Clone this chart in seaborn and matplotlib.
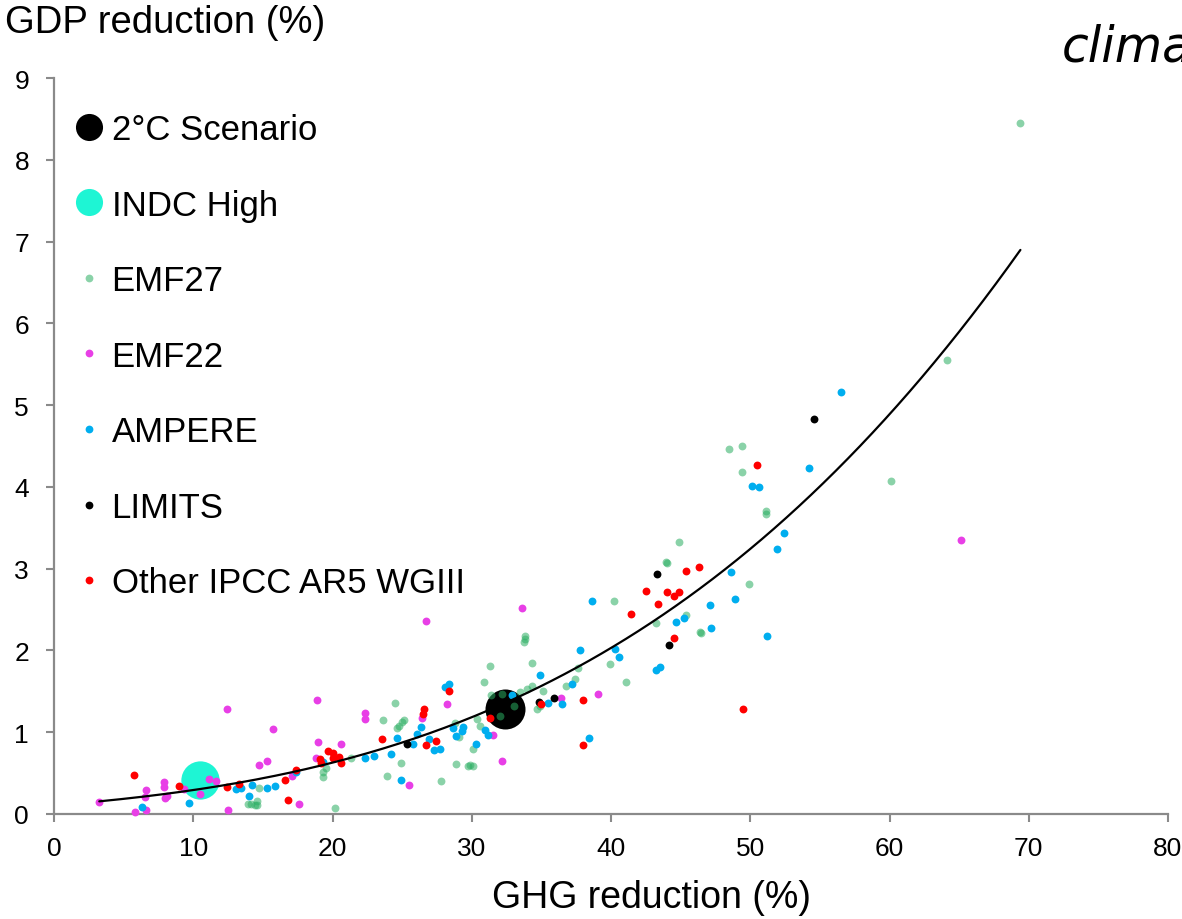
import numpy as np
import matplotlib
matplotlib.use("Agg")
import matplotlib.pyplot as plt
from matplotlib.lines import Line2D
from matplotlib.font_manager import FontProperties
import seaborn as sns

# ---- scenario data: GHG reduction (%) vs GDP reduction (%) ----
scenario_2c_x = [32.4]
scenario_2c_y = [1.28]

indc_high_x = [10.5]
indc_high_y = [0.41]

emf27_x = [14.75, 13.9, 14.15, 14.55, 14.45, 14.6, 20.2, 19.35, 19.35, 19.5,
           21.3, 24.5, 23.6, 23.9, 24.9, 24.6, 24.8, 25.0, 25.1, 27.8,
           28.8, 28.9, 29.7, 29.85, 30.1, 29.1, 30.1, 30.9, 31.3, 30.6,
           30.35, 33.8, 33.8, 33.75, 34.35, 32.2, 33.0, 32.0, 31.4, 33.5,
           34.0, 34.3, 34.65, 34.9, 35.15, 36.8, 37.4, 37.65, 39.9, 40.2,
           41.1, 44.9, 43.95, 44.0, 45.4, 46.4, 46.45, 43.2, 49.9, 48.5,
           49.4, 49.4, 51.1, 51.15, 69.4, 64.1, 60.1]
emf27_y = [0.32, 0.12, 0.12, 0.16, 0.11, 0.11, 0.07, 0.45, 0.51, 0.56,
           0.68, 1.36, 1.15, 0.46, 0.62, 1.05, 1.07, 1.13, 1.15, 0.40,
           1.11, 0.61, 0.59, 0.60, 0.59, 0.94, 0.79, 1.62, 1.81, 1.08,
           1.16, 2.18, 2.14, 2.10, 1.85, 1.47, 1.32, 1.20, 1.45, 1.49,
           1.53, 1.57, 1.28, 1.32, 1.50, 1.56, 1.65, 1.78, 1.84, 2.60,
           1.61, 3.33, 3.08, 3.07, 2.43, 2.23, 2.21, 2.34, 2.81, 4.46,
           4.50, 4.18, 3.70, 3.67, 8.45, 5.55, 4.07]

emf22_x = [3.25, 5.8, 6.6, 6.5, 6.6, 7.9, 7.9, 8.0, 8.1, 9.35,
           11.1, 11.6, 10.5, 12.4, 12.5, 14.7, 15.3, 15.7, 17.6, 17.1,
           18.9, 18.95, 18.8, 20.6, 26.7, 22.3, 22.3, 26.4, 28.2, 25.5,
           32.2, 31.5, 33.6, 36.4, 39.1, 65.1]
emf22_y = [0.15, 0.02, 0.29, 0.21, 0.05, 0.39, 0.33, 0.19, 0.22, 0.30,
           0.43, 0.40, 0.24, 1.29, 0.05, 0.60, 0.65, 1.04, 0.12, 0.47,
           1.40, 0.88, 0.69, 0.85, 2.36, 1.24, 1.16, 1.18, 1.35, 0.35,
           0.65, 0.97, 2.52, 1.42, 1.47, 3.35]

ampere_x = [6.3, 9.7, 13.1, 13.4, 14.2, 14.0, 15.3, 15.9, 17.4, 19.3,
            22.3, 23.0, 24.2, 24.6, 24.9, 26.05, 26.35, 25.8, 26.9, 27.3,
            27.7, 28.1, 28.4, 28.65, 28.9, 29.35, 29.3, 30.3, 30.95, 31.2,
            32.9, 34.9, 35.5, 36.5, 37.2, 37.75, 38.6, 40.3, 40.6, 38.4,
            43.2, 43.5, 44.7, 45.25, 47.1, 47.2, 48.6, 48.9, 51.2, 50.1,
            50.65, 51.9, 52.4, 54.2, 56.5]
ampere_y = [0.08, 0.14, 0.31, 0.32, 0.35, 0.22, 0.32, 0.34, 0.51, 0.64,
            0.69, 0.71, 0.73, 0.93, 0.42, 0.98, 1.06, 0.86, 0.92, 0.78,
            0.79, 1.55, 1.59, 1.05, 0.95, 1.06, 1.02, 0.86, 1.03, 0.97,
            1.45, 1.70, 1.36, 1.35, 1.59, 2.01, 2.60, 2.02, 1.92, 0.93,
            1.76, 1.80, 2.35, 2.40, 2.55, 2.27, 2.96, 2.63, 2.18, 4.01,
            4.00, 3.24, 3.44, 4.23, 5.16]

limits_x = [25.35, 34.8, 35.9, 43.3, 44.2, 54.6]
limits_y = [0.85, 1.37, 1.42, 2.93, 2.07, 4.83]

other_x = [5.75, 9.0, 12.4, 13.3, 16.6, 16.8, 17.4, 19.1, 19.2, 19.7,
           20.0, 20.05, 20.5, 20.6, 23.55, 26.6, 26.5, 26.7, 27.4, 28.4,
           31.3, 35.0, 38.0, 38.0, 41.45, 42.5, 43.4, 44.0, 44.5, 44.9,
           45.4, 46.3, 44.5, 50.5, 49.5]
other_y = [0.48, 0.34, 0.33, 0.37, 0.42, 0.17, 0.54, 0.67, 0.62, 0.77,
           0.75, 0.68, 0.70, 0.62, 0.92, 1.29, 1.22, 0.84, 0.89, 1.50,
           1.17, 1.34, 1.39, 0.84, 2.44, 2.73, 2.57, 2.71, 2.66, 2.71,
           2.97, 3.02, 2.15, 4.27, 1.29]

x_ticks = list(range(0, 81, 10))
y_ticks = list(range(0, 10))

# ---- styling ----
sns.set_theme(style="white")
plt.rcParams["font.family"] = ["Liberation Sans", "DejaVu Sans"]
plt.rcParams["text.color"] = "black"
plt.rcParams["axes.labelcolor"] = "black"

GREY = "#8a8a8a"
C_2C = "#000000"
C_INDC = "#1ef5d4"
C_EMF27 = "#2aae62"
C_EMF22 = "#e83fe6"
C_AMPERE = "#00aeef"
C_LIMITS = "#000000"
C_OTHER = "#ff0000"

W, H = 1182, 920
fig = plt.figure(figsize=(W / 100, H / 100), dpi=100)
ax = fig.add_axes([54 / W, 105 / H, 1114 / W, 736 / H])

# large headline scenarios sit underneath the model clouds
sns.scatterplot(x=scenario_2c_x, y=scenario_2c_y, s=830, color=C_2C,
                linewidth=0, ax=ax, zorder=2, clip_on=False)
sns.scatterplot(x=indc_high_x, y=indc_high_y, s=760, color=C_INDC,
                linewidth=0, ax=ax, zorder=2, clip_on=False)

series = [
    (emf27_x, emf27_y, C_EMF27, 0.55),
    (emf22_x, emf22_y, C_EMF22, 1.0),
    (ampere_x, ampere_y, C_AMPERE, 1.0),
    (limits_x, limits_y, C_LIMITS, 1.0),
    (other_x, other_y, C_OTHER, 1.0),
]
for xs, ys, col, a in series:
    sns.scatterplot(x=xs, y=ys, s=32, color=col, alpha=a, linewidth=0,
                    ax=ax, zorder=3, clip_on=False)

# cubic trend line through all model scenarios
all_x = np.concatenate([emf27_x, emf22_x, ampere_x, limits_x, other_x])
all_y = np.concatenate([emf27_y, emf22_y, ampere_y, limits_y, other_y])
coef = np.polyfit(all_x, all_y, 3)
trend_x = np.linspace(all_x.min(), all_x.max(), 300)
sns.lineplot(x=trend_x, y=np.polyval(coef, trend_x), color="black",
             linewidth=1.6, ax=ax, zorder=4)

# axes
ax.set_xlim(0, 80)
ax.set_ylim(0, 9)
ax.set_xticks(x_ticks)
ax.set_yticks(y_ticks)
sns.despine(ax=ax)
for side in ("left", "bottom"):
    ax.spines[side].set_color(GREY)
    ax.spines[side].set_linewidth(1.6)
ax.tick_params(axis="both", which="major", bottom=True, left=True,
               direction="out", length=6, width=1.5, color=GREY,
               labelsize=19, labelcolor="black")
ax.tick_params(axis="y", pad=12)
ax.tick_params(axis="x", pad=10)

ax.set_xlabel("GHG reduction (%)", fontsize=27, color="black")
ax.xaxis.label.set_va("center")
ax.xaxis.set_label_coords((652 - 54) / 1114, (815 - 898) / 736)

ax.set_ylabel("GDP reduction (%)", fontsize=27.5, color="black",
              rotation=0, ha="left", va="center")
ax.yaxis.set_label_coords((5 - 54) / 1114, (815 - 23) / 736)

# legend
handles = [
    Line2D([], [], ls="none", marker="o", ms=19.5, mfc=C_2C, mec="none"),
    Line2D([], [], ls="none", marker="o", ms=19.5, mfc=C_INDC, mec="none"),
    Line2D([], [], ls="none", marker="o", ms=5.6, mfc=C_EMF27, mec="none", alpha=0.55),
    Line2D([], [], ls="none", marker="o", ms=5.6, mfc=C_EMF22, mec="none"),
    Line2D([], [], ls="none", marker="o", ms=5.6, mfc=C_AMPERE, mec="none"),
    Line2D([], [], ls="none", marker="o", ms=5.6, mfc=C_LIMITS, mec="none"),
    Line2D([], [], ls="none", marker="o", ms=5.6, mfc=C_OTHER, mec="none"),
]
labels = ["2°C Scenario", "INDC High", "EMF27", "EMF22", "AMPERE",
          "LIMITS", "Other IPCC AR5 WGIII"]
leg_font = FontProperties(family=["Liberation Sans", "DejaVu Sans"], size=25)
leg = ax.legend(handles, labels, loc="upper left",
                bbox_to_anchor=(71 / W, 1 - 114 / H), bbox_transform=fig.transFigure,
                frameon=False, prop=leg_font, handlelength=1.05, handletextpad=0.12,
                labelspacing=1.225, borderpad=0, borderaxespad=0)
for t in leg.get_texts():
    t.set_color("black")

fig.text(1062 / W, 1 - 62 / H, "climate", fontsize=35, style="italic",
         family="DejaVu Sans", ha="left", va="baseline", color="black")

fig.savefig("out.png", dpi=100)
